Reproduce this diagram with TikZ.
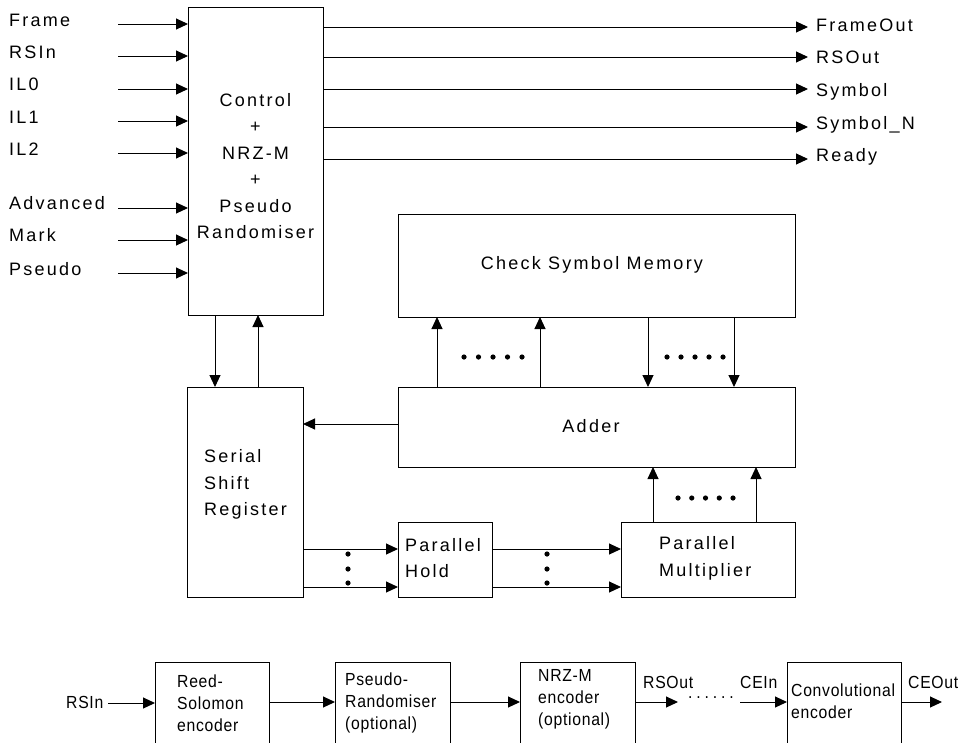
\documentclass[tikz,border=0pt]{standalone}
\usepackage{fontspec}
\setmainfont{Liberation Sans}
\newfontfamily\topf{Liberation Sans}[LetterSpace=12.5]
\newfontfamily\botf{Liberation Sans}[LetterSpace=4,FakeStretch=0.9]
\usetikzlibrary{arrows.meta,calc}
\begin{document}
\begin{tikzpicture}[x=1pt,y=-1pt,
  box/.style={draw, line width=1pt, inner sep=0pt, outer sep=0pt, anchor=north west},
  arr/.style={draw, line width=1pt, -{Triangle[length=12pt,width=11pt]}},
  lbl/.style={font=\topf\fontsize{18}{26.4}\selectfont, inner sep=0pt, text height=12.9pt, text depth=0pt, anchor=west},
  mtxt/.style={font=\topf\fontsize{18}{26.4}\selectfont, inner sep=0pt},
  blbl/.style={font=\botf\fontsize{17.5}{22}\selectfont, inner sep=0pt, text height=12.5pt, text depth=0pt, anchor=west},
  btxt/.style={font=\botf\fontsize{17.5}{22}\selectfont, inner sep=0pt, align=left},
  dot/.style={fill=black}]
\useasboundingbox (0,0) rectangle (968,742);
\clip (0,0) rectangle (968,742);

% ---- boxes ----
\node[box, minimum width=135pt, minimum height=308pt] (ctl) at (188,7) {};
\node[mtxt, align=center] (ctltxt) at (255.5,166) {Control\\+\\NRZ-M\\+\\Pseudo\\Randomiser};

\node[box, minimum width=397pt, minimum height=103pt] (csm) at (398,214) {};
\node[lbl, anchor=center] (csmtxt) at (592,263) {Check Symbol Memory};

\node[box, minimum width=397pt, minimum height=80pt] (add) at (398,387) {};
\node[lbl, anchor=center] (addtxt) at (591,426) {Adder};

\node[box, minimum width=116pt, minimum height=210pt] (ssr) at (187,387) {};
\node[mtxt, align=left, anchor=west] (ssrtxt) at (204,484.5) {Serial\\Shift\\Register};

\node[box, minimum width=94pt, minimum height=75pt] (ph) at (398,522) {};
\node[mtxt, align=left, anchor=west] (phtxt) at (405,558) {Parallel\\Hold};

\node[box, minimum width=174pt, minimum height=75pt] (pm) at (621,522) {};
\node[mtxt, align=left, anchor=west] (pmtxt) at (659,558.5) {Parallel\\Multiplier};

% ---- inputs ----
\foreach \nm/\t/\ty/\ay in {i1/Frame/19.7/24, i2/RSIn/52/56, i3/IL0/84/89, i4/IL1/117/121, i5/IL2/149/153, i6/Advanced/203/208, i7/Mark/235/240, i8/Pseudo/269/273}{
  \node[lbl] (\nm) at (9,\ty) {\t};
  \coordinate (\nm s) at (118,\ay);
  \draw[arr] (\nm s) -- (\nm s -| ctl.west);
}

% ---- outputs ----
\foreach \nm/\t/\ty/\ay in {o1/FrameOut/25/27, o2/RSOut/57/57, o3/Symbol/90/89, o4/Symbol\_N/123/127, o5/Ready/155/159}{
  \node[lbl] (\nm) at (816,\ty) {\t};
  \coordinate (\nm e) at (808,\ay);
  \draw[arr] (\nm e -| ctl.east) -- (\nm e);
}

% ---- control <-> shift register ----
\draw[arr] ($(ctl.south west)+(27,0)$) -- ($(ssr.north west)+(28,0)$);
\draw[arr] ($(ssr.north west)+(71,0)$) -- ($(ctl.south west)+(70,0)$);

% ---- adder -> shift register ----
\draw[arr] ($(add.north west)+(0,37)$) -- ($(ssr.north east)+(0,37)$);

% ---- adder <-> memory ----
\draw[arr] ($(add.north west)+(39,0)$) -- ($(csm.south west)+(39,0)$);
\draw[arr] ($(add.north west)+(142,0)$) -- ($(csm.south west)+(142,0)$);
\draw[arr] ($(csm.south west)+(250,0)$) -- ($(add.north west)+(250,0)$);
\draw[arr] ($(csm.south west)+(336,0)$) -- ($(add.north west)+(336,0)$);

% ---- multiplier -> adder ----
\draw[arr] ($(pm.north west)+(32,0)$) -- ($(add.south west)+(255,0)$);
\draw[arr] ($(pm.north west)+(135,0)$) -- ($(add.south west)+(358,0)$);

% ---- shift register -> hold -> multiplier ----
\draw[arr] ($(ssr.north east)+(0,162)$) -- ($(ph.north west)+(0,27)$);
\draw[arr] ($(ssr.north east)+(0,200)$) -- ($(ph.north west)+(0,65)$);
\draw[arr] ($(ph.north east)+(0,27)$) -- ($(pm.north west)+(0,27)$);
\draw[arr] ($(ph.north east)+(0,65)$) -- ($(pm.north west)+(0,65)$);

% ---- dots ----
\foreach \i in {0,...,4}{
  \fill[dot] (464+14.5*\i,357) circle (2.6pt);
  \fill[dot] (667+14*\i,357) circle (2.6pt);
  \fill[dot] (678+13.75*\i,498) circle (2.6pt);
}
\foreach \yy in {554,569,583}{
  \fill[dot] (348,\yy) circle (2.6pt);
  \fill[dot] (547,\yy) circle (2.6pt);
}

% ---- bottom chain ----
\node[box, minimum width=114pt, minimum height=100pt] (rs) at (155,662) {};
\node[btxt, anchor=west] (rstxt) at (177,703) {Reed-\\Solomon\\encoder};
\node[box, minimum width=115pt, minimum height=100pt] (pr) at (335,662) {};
\node[btxt, anchor=west] (prtxt) at (345,703) {Pseudo-\\Randomiser\\(optional)};
\node[box, minimum width=115pt, minimum height=100pt] (nrz) at (520,662) {};
\node[btxt, anchor=west] (nrztxt) at (538,699) {NRZ-M\\encoder\\(optional)};
\node[box, minimum width=114pt, minimum height=100pt] (cv) at (787,662) {};
\node[btxt, anchor=west] (cvtxt) at (791,701) {Convolutional\\encoder};

\node[blbl] (rsin) at (66,702) {RSIn};
\node[blbl] (rsout) at (643,682) {RSOut};
\node[blbl] (cein) at (740,682) {CEIn};
\node[blbl] (ceout) at (908,682) {CEOut};
\node[blbl, text height=3pt] (gap) at (688,697) {\addfontfeature{LetterSpace=22}......};

\coordinate (rsins) at (108,703);
\coordinate (rsoute) at (678,702);
\coordinate (ceins) at (740,702);
\coordinate (ceoute) at (942,702);
\draw[arr] (rsins) -- (rsins -| rs.west);
\draw[arr] ($(rs.north east)+(0,40)$) -- ($(pr.north west)+(0,40)$);
\draw[arr] ($(pr.north east)+(0,40)$) -- ($(nrz.north west)+(0,40)$);
\draw[arr] (rsoute -| nrz.east) -- (rsoute);
\draw[arr] (ceins) -- (ceins -| cv.west);
\draw[arr] (ceoute -| cv.east) -- (ceoute);
\end{tikzpicture}
\end{document}
